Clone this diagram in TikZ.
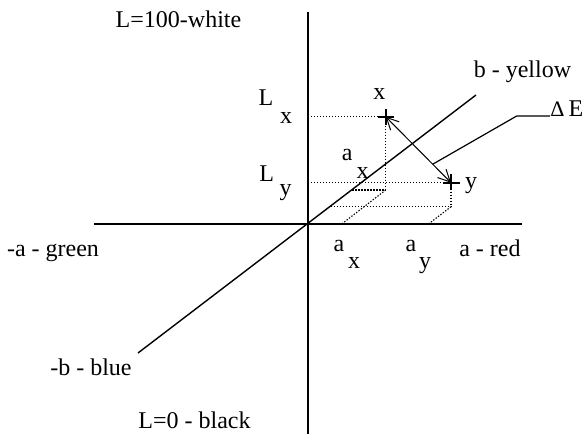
\documentclass[tikz,border=0pt]{standalone}
\usepackage{fontspec}
\setmainfont{Liberation Serif}
\usetikzlibrary{arrows.meta}

\begin{document}
\begin{tikzpicture}[x=0.5pt, y=0.5pt,
        every node/.style={font=\fontsize{12}{14}\selectfont, inner sep=0pt, anchor=base},
        axisline/.style={line width=1pt},
        baxisline/.style={line width=0.7pt},
        guide/.style={line width=0.55pt, dash pattern=on 0.7pt off 0.8pt},
        plusmark/.style={line width=1pt},
        diffarrow/.style={line width=0.5pt,
            {Straight Barb[length=6pt, width=6pt]}-{Straight Barb[length=6pt, width=6pt]}},
        leader/.style={line width=0.6pt}
    ]
    \useasboundingbox (-308,-210) rectangle (275,224);

    \coordinate (o) at (0,0);
    \coordinate (ltop) at (0,212);
    \coordinate (lbot) at (0,-210);
    \coordinate (aneg) at (-214,0);
    \coordinate (apos) at (214,0);
    \coordinate (bneg) at (-170,-129);
    \coordinate (bpos) at (168,129);

    \coordinate (px) at (77.7,107.3);
    \coordinate (pxb) at (77.7,34);
    \coordinate (bx) at (44.3,34);
    \coordinate (ax) at (33.7,0);
    \coordinate (lx) at (0,107.3);

    \coordinate (py) at (143,41.3);
    \coordinate (pyb) at (143,17.3);
    \coordinate (by) at (22.5,17.3);
    \coordinate (ay) at (120.5,0);
    \coordinate (ly) at (0,41.3);

    \draw[axisline] (ltop) -- (lbot);
    \draw[axisline] (aneg) -- (apos);
    \draw[baxisline] (bneg) -- (bpos);

    \draw[guide] (lx) -- (px);
    \draw[guide] (px) -- (pxb);
    \draw[guide] (pxb) -- (ax);
    \draw[guide] (bx) -- (pxb);
    \draw[guide] (ly) -- (py);
    \draw[guide] (py) -- (pyb);
    \draw[guide] (pyb) -- (ay);
    \draw[guide] (by) -- (pyb);

    \draw[plusmark] (px) +(-8,0) -- +(8,0) (px) +(0,-8) -- +(0,8);
    \draw[plusmark] (py) +(-8,0) -- +(9,0) (py) +(0,-7) -- +(0,9);

    \draw[diffarrow] (px) -- coordinate[pos=0.72] (dmid) (py);
    \coordinate (dbend) at (208.7,108);
    \coordinate (dend) at (242,108);
    \draw[leader] (dmid) -- (dbend) -- (dend);
    \node[anchor=base west] (de) at (242,107.3) {{\fontsize{11}{13}\selectfont Δ}\,E};

    \node (white) at (-129.5,196.7) {L=100-white};
    \node (black) at (-113.5,-204.3) {L=0 - black};
    \node (yellow) at (214.5,146.7) {b - yellow};
    \node (blue) at (-217,-151) {-b - blue};
    \node (red) at (182,-32) {a - red};
    \node (green) at (-255,-32.7) {-a - green};

    \node (lxl) at (-42,119) {L};
    \node (lxs) at (-22,100.7) {x};
    \node (lyl) at (-41.3,42.3) {L};
    \node (lys) at (-22.3,29) {y};
    \node (xlab) at (71.3,124.7) {x};
    \node (ylab) at (163,35.7) {y};
    \node (axl) at (39.3,64) {a};
    \node (axs) at (54.7,45.7) {x};

    \node (axa) at (31,-27.7) {a};
    \node (axx) at (46,-44.3) {x};
    \node (aya) at (103,-27.7) {a};
    \node (ayy) at (117,-44.3) {y};
\end{tikzpicture}
\end{document}
